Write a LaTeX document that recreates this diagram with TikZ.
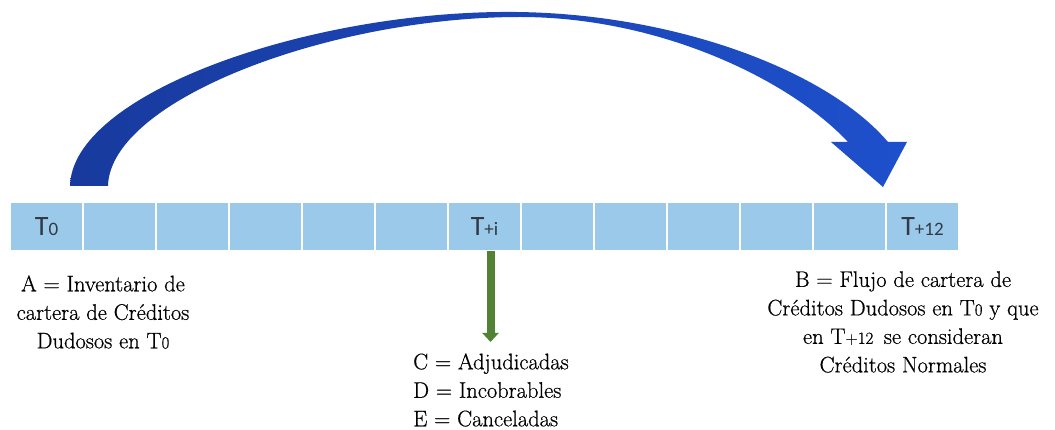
\documentclass[tikz,border=0pt]{standalone}
\usepackage{fontspec}
\newfontfamily\cellfont{Carlito}
\newfontfamily\txtfont{Latin Modern Roman}[FakeBold=0.6]
\usetikzlibrary{arrows.meta}
\definecolor{cellblue}{RGB}{155,201,234}
\definecolor{celltext}{RGB}{50,56,68}
\definecolor{arrowL}{RGB}{24,58,158}
\definecolor{arrowR}{RGB}{30,80,204}
\definecolor{arrowG}{RGB}{84,130,53}
\tikzset{
  cell/.style={fill=cellblue, draw=white, line width=2pt, minimum width=73pt,
    minimum height=49pt, inner sep=0pt, outer sep=0pt},
  celllbl/.style={font=\cellfont\fontsize{28}{28}\selectfont, text=celltext, inner sep=0pt},
  lbl/.style={font=\txtfont\fontsize{22.5}{28.5}\selectfont, inner sep=0pt},
  garrow/.style={draw=arrowG, line width=8pt,
    -{Triangle[width=16pt,length=9pt]}},
}
\newcommand{\sm}[1]{{\fontsize{19}{19}\selectfont #1}}
\newcommand{\smt}[1]{{\fontsize{17}{17}\selectfont #1}}
\begin{document}
\begin{tikzpicture}[x=1pt,y=-1pt]
\useasboundingbox (0,0) rectangle (1055,430);
% timeline cells
\foreach \i in {1,...,13}{
  \node[cell] (c\i) at ({10+36.5+73*(\i-1)},226.5) {};
}
\node[celllbl] (t0) at (c1) {T\sm{0}};
\node[celllbl] (ti) at (c7) {T\sm{+i}};
\node[celllbl] (t12) at (c13) {T\sm{+12}};
% big curved blue arrow
\shade[left color=arrowL, right color=arrowR]
  (70,186) .. controls (72,95) and (300,14) .. (500,12)
  .. controls (665,10) and (825,68) .. (888,142)
  -- (907,142) -- (883,187) -- (831,142) -- (848,142)
  .. controls (790,80) and (660,17) .. (520,17)
  .. controls (330,17) and (110,100) .. (108,186) -- cycle;
% labels
\node[lbl, align=center] (A) at (103,312) {A = Inventario de\\cartera de Créditos\\Dudosos en T\smt{0}};
\node[lbl, align=center] (B) at (903,322) {B = Flujo de cartera de\\Créditos Dudosos en T\smt{0} y que\\en T\smt{+12}\, se consideran\\Créditos Normales};
\node[lbl, align=left, anchor=west] (C) at (413,390) {C = Adjudicadas\\D = Incobrables\\E = Canceladas};
% green arrow
\coordinate (gs) at ([xshift=6pt]c7.south);
\draw[garrow] (gs) -- ([yshift=-91pt]gs);
\end{tikzpicture}
\end{document}
